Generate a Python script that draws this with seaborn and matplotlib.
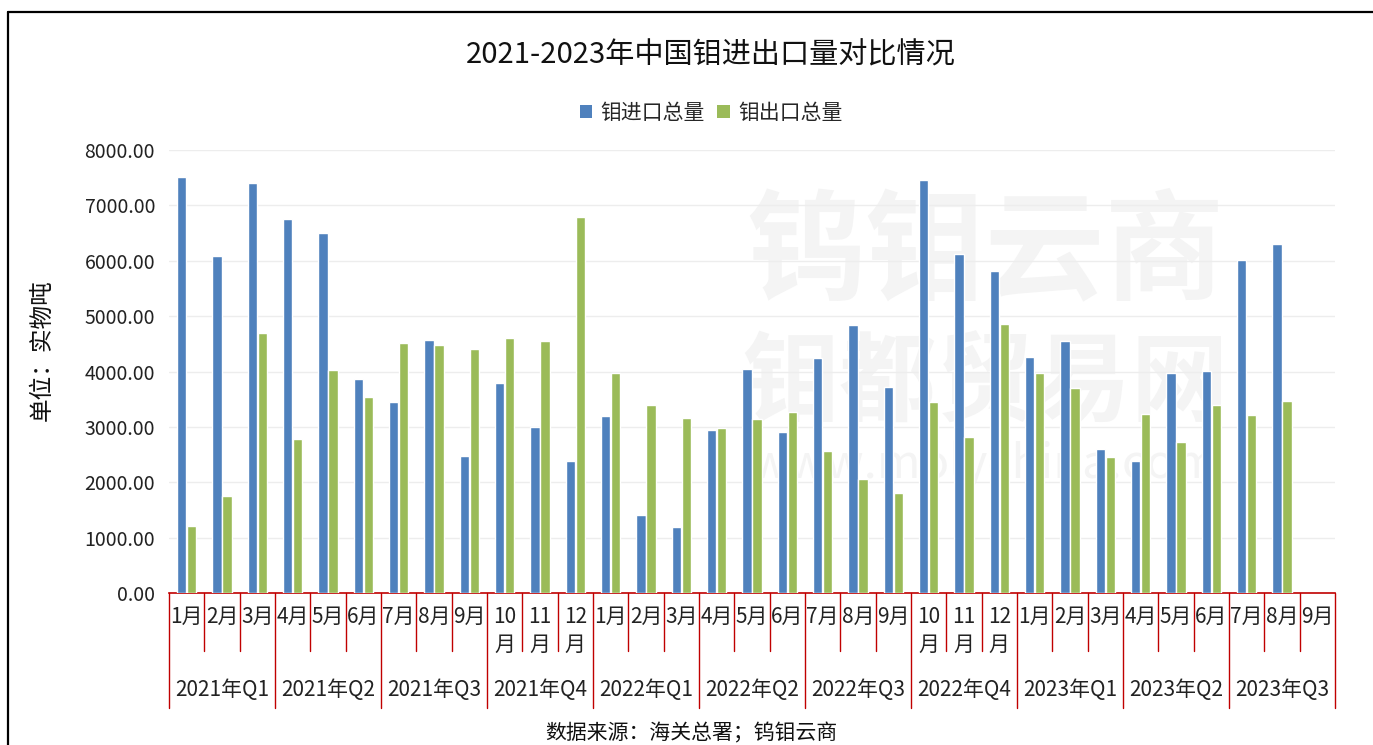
import matplotlib
matplotlib.use("Agg")
import matplotlib.pyplot as plt
from matplotlib.lines import Line2D
import numpy as np
import pandas as pd
import seaborn as sns

sns.set_theme(style="white")
plt.rcParams["font.family"] = ["Noto Sans CJK SC", "DejaVu Sans"]

# data (unit: physical tonnes)
period_keys = (
    [f"2021-{m:02d}" for m in range(1, 13)]
    + [f"2022-{m:02d}" for m in range(1, 13)]
    + [f"2023-{m:02d}" for m in range(1, 10)]
)
month_labels = (
    ["1月", "2月", "3月", "4月", "5月", "6月", "7月", "8月", "9月", "10\n月", "11\n月", "12\n月"] * 2
    + ["1月", "2月", "3月", "4月", "5月", "6月", "7月", "8月", "9月"]
)
quarter_labels = [
    "2021年Q1", "2021年Q2", "2021年Q3", "2021年Q4",
    "2022年Q1", "2022年Q2", "2022年Q3", "2022年Q4",
    "2023年Q1", "2023年Q2", "2023年Q3",
]
import_vals = [
    7519, 6087, 7410, 6754, 6502, 3856, 3447, 4571, 2478, 3784, 2995, 2388,
    3188, 1414, 1197, 2947, 4048, 2899, 4247, 4842, 3723, 7459, 6117, 5823,
    4265, 4559, 2598, 2388, 3964, 4012, 6015, 6304, np.nan,
]
export_vals = [
    1209, 1756, 4698, 2785, 4030, 3543, 4517, 4475, 4415, 4608, 4559, 6791,
    3976, 3404, 3152, 2971, 3140, 3272, 2556, 2057, 1805, 3453, 2809, 4866,
    3976, 3699, 2460, 3236, 2731, 3398, 3212, 3465, np.nan,
]
series_names = ["钼进口总量", "钼出口总量"]
series_colors = ["#4F81BD", "#9BBB59"]

df = pd.DataFrame(
    {
        "period": period_keys * 2,
        "series": [series_names[0]] * len(period_keys) + [series_names[1]] * len(period_keys),
        "value": import_vals + export_vals,
    }
)

W, H = 1373, 745
fig = plt.figure(figsize=(W / 100, H / 100), dpi=100)
ax = fig.add_axes([169 / W, 1 - 593 / H, (1335 - 169) / W, (593 - 150) / H])
ax.set_zorder(2)
ax.patch.set_alpha(0)

# faint watermark behind the bars
wm = "#F4F4F4"
fig.text(985 / W, 1 - 255 / H, "钨钼云商", fontsize=86, color=wm, ha="center", va="center",
         fontweight="bold", zorder=0)
fig.text(985 / W, 1 - 385 / H, "钼都贸易网", fontsize=70, color=wm, ha="center", va="center",
         fontweight="bold", zorder=0)
fig.text(985 / W, 1 - 465 / H, "www.molychina.com", fontsize=34, color=wm, ha="center",
         va="center", zorder=0)

sns.barplot(
    data=df,
    x="period",
    y="value",
    hue="series",
    hue_order=series_names,
    palette=dict(zip(series_names, series_colors)),
    order=period_keys,
    width=0.567,
    gap=0.07,
    saturation=1,
    errorbar=None,
    ax=ax,
    zorder=3,
    legend=False,
)

ax.set_xlim(-0.5, len(period_keys) - 0.5)
ax.set_ylim(0, 8000)
ax.set_yticks(np.arange(0, 8001, 1000))
ax.set_yticklabels([f"{v:.2f}" for v in np.arange(0, 8001, 1000)], fontsize=14, color="#222222")
ax.tick_params(axis="y", length=0, pad=10)
ax.set_xticks([])
ax.set_xlabel("")
ax.set_ylabel("")
ax.grid(axis="y", color="#EDEDED", linewidth=1, zorder=0)
for side in ["top", "right", "left"]:
    ax.spines[side].set_visible(False)
ax.spines["bottom"].set_color("#C00000")
ax.spines["bottom"].set_linewidth(1.2)

# two-level category axis: months, then quarters, with red separators
trans = ax.get_xaxis_transform()
red = "#C00000"
for k in range(len(period_keys) + 1):
    bottom = -0.26 if k % 3 == 0 else -0.131
    ax.plot([k - 0.5, k - 0.5], [0, bottom], color=red, lw=1, transform=trans, clip_on=False)
for k, lab in enumerate(month_labels):
    ax.text(k, -0.03, lab, transform=trans, ha="center", va="top", fontsize=15,
            color="#222222", linespacing=1.35)
for q, lab in enumerate(quarter_labels):
    ax.text(3 * q + 1, -0.219, lab, transform=trans, ha="center", va="center", fontsize=15,
            color="#222222")

fig.text(711 / W, 1 - 55 / H, "2021-2023年中国钼进出口量对比情况", fontsize=21,
         ha="center", va="center", color="#111111")
handles = [
    plt.Rectangle((0, 0), 1, 1, facecolor=c, edgecolor="none") for c in series_colors
]
fig.legend(handles, series_names, loc="center", bbox_to_anchor=(711 / W, 1 - 113 / H),
           ncol=2, frameon=False, fontsize=15, handlelength=0.6, handleheight=0.6,
           handletextpad=0.4, columnspacing=0.6)
fig.text(42 / W, 1 - 350 / H, "单位：实物吨", rotation=90, fontsize=17, ha="center",
         va="center", color="#111111")
fig.text(691 / W, 1 - 733 / H, "数据来源：海关总署；钨钼云商", fontsize=15, ha="center",
         va="center", color="#111111")

# outer frame, cut off at the right and bottom like the screenshot
fig.add_artist(Line2D([8 / W, 1.0], [1 - 12 / H, 1 - 12 / H], color="black", lw=1.6,
                      transform=fig.transFigure))
fig.add_artist(Line2D([8 / W, 8 / W], [1 - 12 / H, 0.0], color="black", lw=1.6,
                      transform=fig.transFigure))

fig.savefig("out.png", dpi=100)
